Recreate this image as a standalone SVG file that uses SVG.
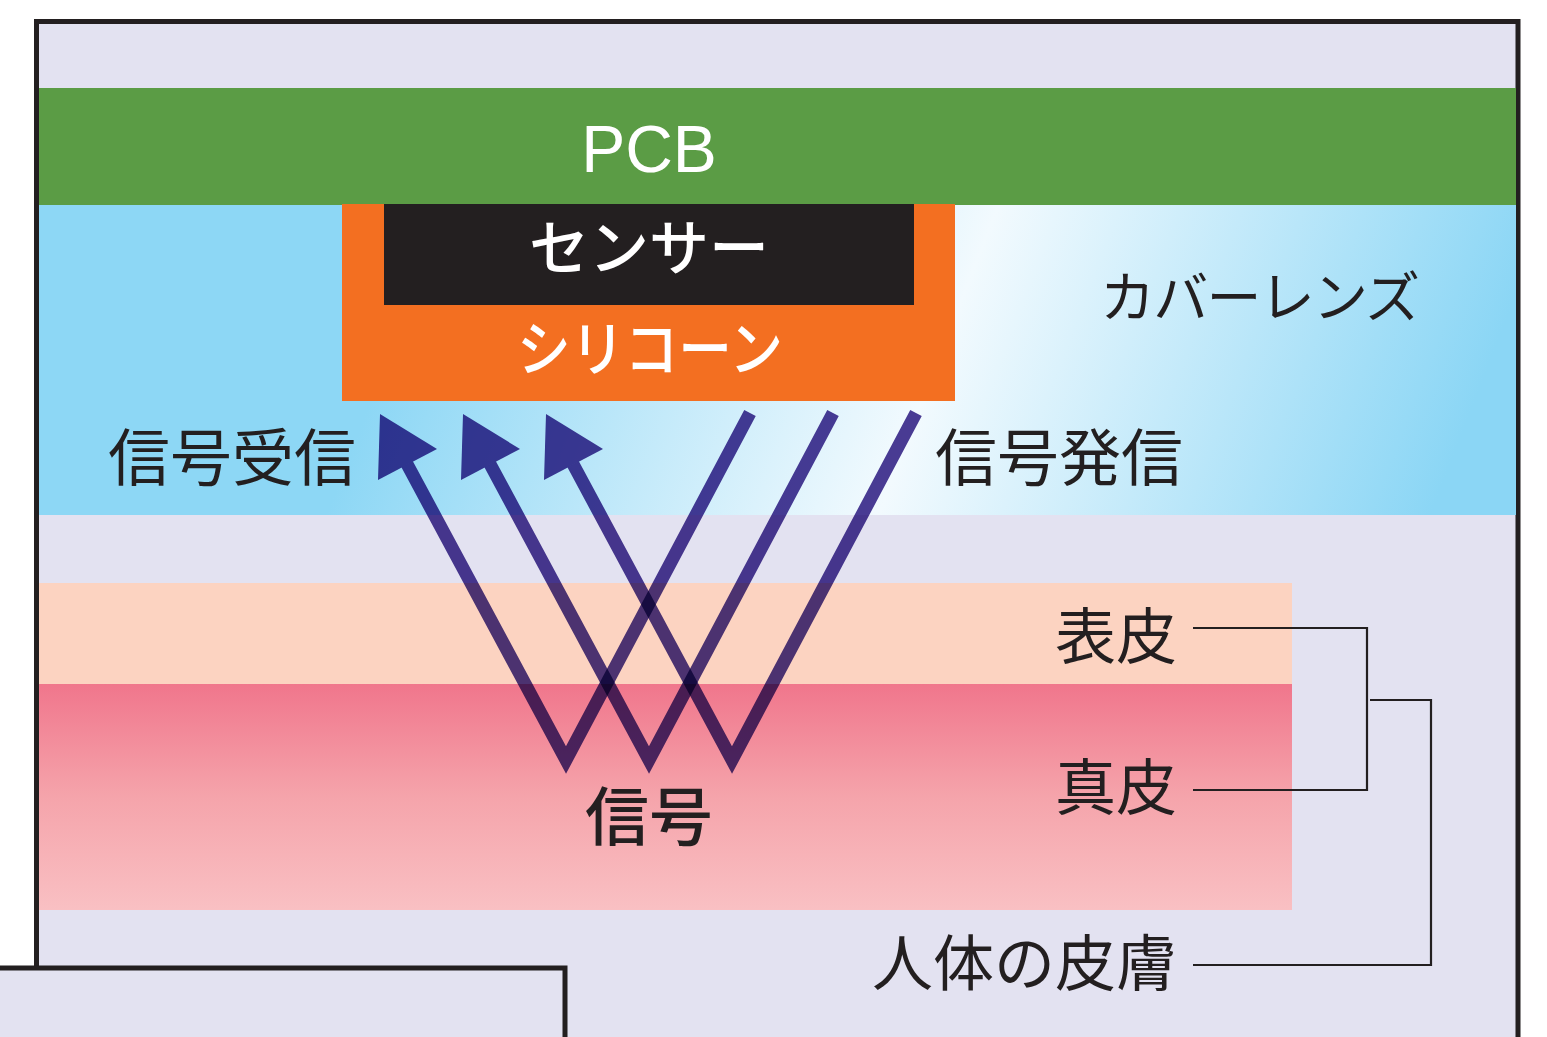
<svg xmlns="http://www.w3.org/2000/svg" width="1547" height="1037" viewBox="0 0 1547 1037">
<style>
.jp{font-family:"Noto Sans CJK JP","Noto Sans",sans-serif;fill:#231f20}
.w{fill:#ffffff}
.frame{fill:none;stroke:#231f20;stroke-width:5}
.sig{fill:none;stroke:#4d3c94;stroke-width:13;stroke-linejoin:miter;stroke-miterlimit:10}
.head{fill:#4d3c94}
.bracket{fill:none;stroke:#231f20;stroke-width:2.2}
.v{mix-blend-mode:multiply}
</style>
<defs>
<linearGradient id="lensG" gradientUnits="userSpaceOnUse" x1="360" y1="250" x2="1560" y2="715">
<stop offset="0.05" stop-color="#8dd7f5"/>
<stop offset="0.45" stop-color="#f2fafe"/>
<stop offset="0.85" stop-color="#8bd6f5"/>
</linearGradient>
<linearGradient id="dermG" x1="0" y1="0" x2="0" y2="1">
<stop offset="0" stop-color="#f0768c"/>
<stop offset="0.5" stop-color="#f5a4ab"/>
<stop offset="1" stop-color="#f9c0c3"/>
</linearGradient>
</defs>
<rect x="0" y="0" width="1547" height="1037" fill="#ffffff"/>
<g id="frame">
<rect x="39" y="24" width="1477" height="1020" fill="#e3e2f1"/>
<path class="frame" d="M36.5,968 V21.5 H1518 V1045"/>
</g>
<g id="pcb">
<rect x="39" y="88" width="1477" height="117" fill="#5b9c45"/>
<text x="649" y="172" text-anchor="middle" font-family="'Liberation Sans',Arial,sans-serif" font-size="66" class="w">PCB</text>
</g>
<g id="cover-lens">
<rect x="39" y="205" width="1477" height="310" fill="url(#lensG)"/>
<text x="1100" y="317" class="jp" font-size="55" textLength="320" lengthAdjust="spacing">カバーレンズ</text>
</g>
<g id="silicone">
<rect x="342" y="204" width="613" height="197" fill="#f36f21"/>
<text x="650" y="371" text-anchor="middle" class="jp w" font-size="60" font-weight="500" textLength="266" lengthAdjust="spacingAndGlyphs">シリコーン</text>
</g>
<g id="sensor">
<rect x="384" y="204" width="530" height="101" fill="#231f20"/>
<text x="649" y="270" text-anchor="middle" class="jp w" font-size="60" font-weight="500">センサー</text>
</g>
<g id="epidermis">
<rect x="39" y="583" width="1253" height="101" fill="#fcd3c1"/>
<text x="1177" y="659" text-anchor="end" class="jp" font-size="61">表皮</text>
</g>
<g id="dermis">
<rect x="39" y="684" width="1253" height="226" fill="url(#dermG)"/>
<text x="1177" y="810" text-anchor="end" class="jp" font-size="61">真皮</text>
<text x="649" y="840" text-anchor="middle" class="jp" font-size="64" font-weight="500">信号</text>
</g>
<g id="skin-label">
<text x="1177" y="986" text-anchor="end" class="jp" font-size="61">人体の皮膚</text>
</g>
<g id="signal-labels">
<text x="108" y="481" class="jp" font-size="62">信号受信</text>
<text x="935" y="481" class="jp" font-size="62">信号発信</text>
</g>
<g id="corner-box">
<rect x="-10" y="968" width="575" height="80" fill="#e3e2f1" stroke="#231f20" stroke-width="5"/>
</g>
<g id="connectors">
<g class="v">
<polyline class="sig" points="407,464 566,760 750,413"/>
<polygon class="head" points="380,414 378,480 437,449"/>
</g>
<g class="v">
<polyline class="sig" points="490,464 649,760 833,413"/>
<polygon class="head" points="463,414 461,480 520,449"/>
</g>
<g class="v">
<polyline class="sig" points="573,464 732,760 916,413"/>
<polygon class="head" points="546,414 544,480 603,449"/>
</g>
<polyline class="bracket" points="1193,628 1367,628 1367,790 1193,790"/>
<polyline class="bracket" points="1370,700 1431,700 1431,965 1193,965"/>
</g>
</svg>
